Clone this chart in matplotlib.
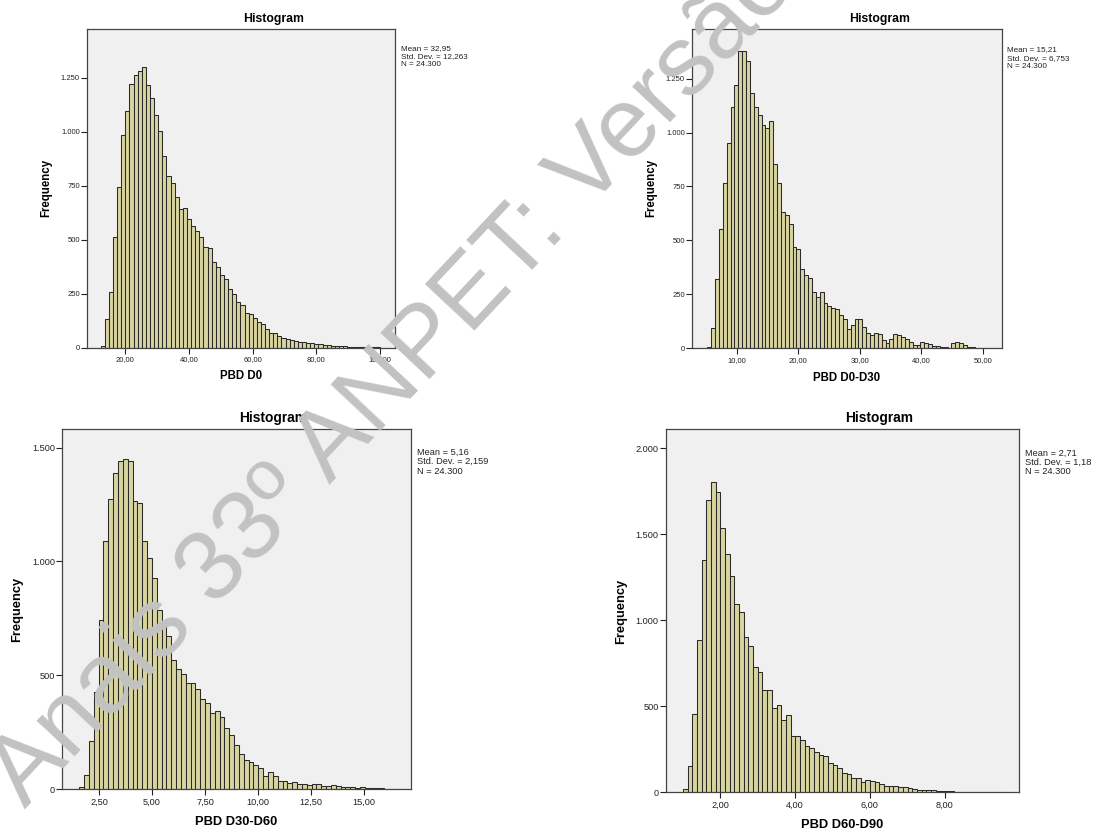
import numpy as np
import matplotlib
matplotlib.use('Agg')
import matplotlib.pyplot as plt
from matplotlib.ticker import FuncFormatter

plt.rcParams['font.family'] = ['Liberation Sans', 'DejaVu Sans']

W, H = 1095, 830

# ---- data (bin start, bin width, counts) ----
d0_start, d0_width = 12.3, 1.29
d0_counts = [9, 131, 256, 511, 742, 983, 1094, 1220, 1262, 1281,
             1301, 1214, 1157, 1075, 1003, 889, 793, 762, 699, 640,
             646, 597, 563, 540, 514, 467, 460, 398, 373, 335,
             319, 273, 250, 211, 196, 162, 154, 139, 119, 108,
             86, 69, 66, 54, 45, 42, 35, 32, 28, 25,
             22, 20, 17, 15, 13, 11, 10, 8, 7, 6,
             5, 4, 4, 3, 2, 2, 1, 1]

d030_start, d030_width = 5.23, 0.63
d030_counts = [5, 93, 320, 555, 765, 950, 1120, 1222, 1377, 1377,
               1330, 1182, 1117, 1081, 1035, 1019, 1055, 854, 765, 632,
               618, 575, 468, 459, 366, 338, 326, 259, 236, 261,
               212, 196, 187, 181, 156, 138, 88, 110, 134, 134,
               100, 71, 63, 73, 66, 39, 25, 42, 66, 60,
               51, 45, 29, 14, 14, 29, 26, 20, 11, 11,
               8, 8, 2, 26, 31, 26, 14, 8, 5, 3,
               2, 1]

d3060_start, d3060_width = 1.57, 0.228
d3060_counts = [9, 62, 211, 425, 742, 1088, 1274, 1387, 1440, 1451,
                1440, 1264, 1257, 1091, 1014, 927, 786, 729, 671, 567,
                526, 507, 468, 465, 438, 394, 377, 336, 343, 318,
                270, 236, 194, 152, 128, 117, 107, 91, 59, 76,
                59, 37, 37, 26, 32, 23, 21, 18, 23, 21,
                12, 15, 16, 15, 7, 7, 7, 3, 9, 6,
                4, 3, 3, 1, 1]

d6090_start, d6090_width = 1.01, 0.125
d6090_counts = [19, 155, 453, 886, 1351, 1700, 1802, 1748, 1535, 1384,
                1256, 1093, 1046, 905, 853, 729, 702, 595, 595, 488,
                508, 422, 450, 329, 329, 304, 271, 256, 236, 217,
                213, 169, 159, 140, 110, 105, 85, 85, 62, 74,
                66, 58, 47, 39, 35, 35, 31, 31, 23, 19,
                16, 14, 12, 12, 10, 8, 6, 6, 4, 4,
                3, 2, 2, 1, 1, 1, 1, 1]

xlabels = ['PBD D0', 'PBD D0-D30', 'PBD D30-D60', 'PBD D60-D90']
stats = [['Mean = 32,95', 'Std. Dev. = 12,263', 'N = 24.300'],
         ['Mean = 15,21', 'Std. Dev. = 6,753', 'N = 24.300'],
         ['Mean = 5,16', 'Std. Dev. = 2,159', 'N = 24.300'],
         ['Mean = 2,71', 'Std. Dev. = 1,18', 'N = 24.300']]
yticks = [np.arange(0, 1251, 250), np.arange(0, 1251, 250),
          np.arange(0, 1501, 500), np.arange(0, 2001, 500)]
xticks = [np.arange(20, 101, 20), np.arange(10, 51, 10),
          np.arange(2.5, 15.1, 2.5), np.arange(2, 8.1, 2)]

# ---- layout (pixels) ----
panels = [
    dict(box=(86.7, 29, 395, 347.7), xlim=(7.9, 104.7), ylim=(0, 1475),
         title=(273.5, 19), xl=(240.7, 375.7), yl=(46.7, 188),
         st=(401, [49, 56.7, 64.3]), small=True),
    dict(box=(691.7, 29, 1001.7, 348.3), xlim=(2.68, 53.1), ylim=(0, 1480),
         title=(879.3, 19), xl=(846.7, 377.7), yl=(651.7, 188),
         st=(1006.7, [49.3, 58.3, 66.3]), small=True),
    dict(box=(62, 429.3, 411, 789), xlim=(0.756, 17.2), ylim=(0, 1581),
         title=(273.3, 418.3), xl=(236, 821.7), yl=(17.3, 609),
         st=(417, [452.7, 461.7, 471]), small=False),
    dict(box=(665.7, 429.3, 1018.7, 792.3), xlim=(0.55, 9.98), ylim=(0, 2110),
         title=(879.3, 418.3), xl=(842, 825), yl=(620.7, 611),
         st=(1025, [453.3, 462.3, 471.7]), small=False),
]
data = [(d0_start, d0_width, d0_counts), (d030_start, d030_width, d030_counts),
        (d3060_start, d3060_width, d3060_counts), (d6090_start, d6090_width, d6090_counts)]

fig = plt.figure(figsize=(W / 100, H / 100), dpi=100)
fig.patch.set_facecolor('white')


def fx(x):
    return x / W


def fy(y):
    return 1 - y / H


ythou = FuncFormatter(lambda v, p: f'{int(v):,}'.replace(',', '.'))
xdec = FuncFormatter(lambda v, p: f'{v:.2f}'.replace('.', ','))

for i, (p, (start, width, counts)) in enumerate(zip(panels, data)):
    l, t, r, b = p['box']
    ax = fig.add_axes([fx(l), fy(b), (r - l) / W, (b - t) / H])
    ax.set_facecolor('#f0f0f0')
    lefts = start + width * np.arange(len(counts))
    ax.bar(lefts, counts, width=width, align='edge', color='#d8d4a0',
           edgecolor='#2a2a2a', linewidth=0.75)
    ax.set_xlim(*p['xlim'])
    ax.set_ylim(*p['ylim'])
    ax.set_xticks(xticks[i])
    ax.set_yticks(yticks[i])
    ax.xaxis.set_major_formatter(xdec)
    ax.yaxis.set_major_formatter(ythou)
    tfs = 5.5 if p['small'] else 6.6
    lfs = 8.3 if p['small'] else 9.3
    ttl = 8.8 if p['small'] else 9.9
    sfs = 5.9 if p['small'] else 6.7
    ax.tick_params(axis='both', labelsize=tfs, length=4, width=0.8, pad=1,
                   color='#222222', labelcolor='#222222')
    ax.tick_params(axis='x', pad=2)
    for s in ax.spines.values():
        s.set_color('#444444')
        s.set_linewidth(0.9)

    fig.text(fx(p['title'][0]), fy(p['title'][1]), 'Histogram', fontsize=ttl,
             fontweight='bold', ha='center', va='center')
    fig.text(fx(p['xl'][0]), fy(p['xl'][1]), xlabels[i], fontsize=lfs,
             fontweight='bold', ha='center', va='center')
    fig.text(fx(p['yl'][0]), fy(p['yl'][1]), 'Frequency', fontsize=lfs,
             fontweight='bold', ha='center', va='center', rotation=90)
    sx, sys_ = p['st']
    for line, yy in zip(stats[i], sys_):
        fig.text(fx(sx), fy(yy), line, fontsize=sfs, ha='left', va='center',
                 color='#222222')

# watermark across the page
fig.text(fx(25), fy(809), 'Anais 33º ANPET: Versão', fontsize=71.5,
         color='#c2c2c2', rotation=46.8, rotation_mode='anchor',
         ha='left', va='baseline', zorder=10)

fig.savefig('out.png', dpi=100)
